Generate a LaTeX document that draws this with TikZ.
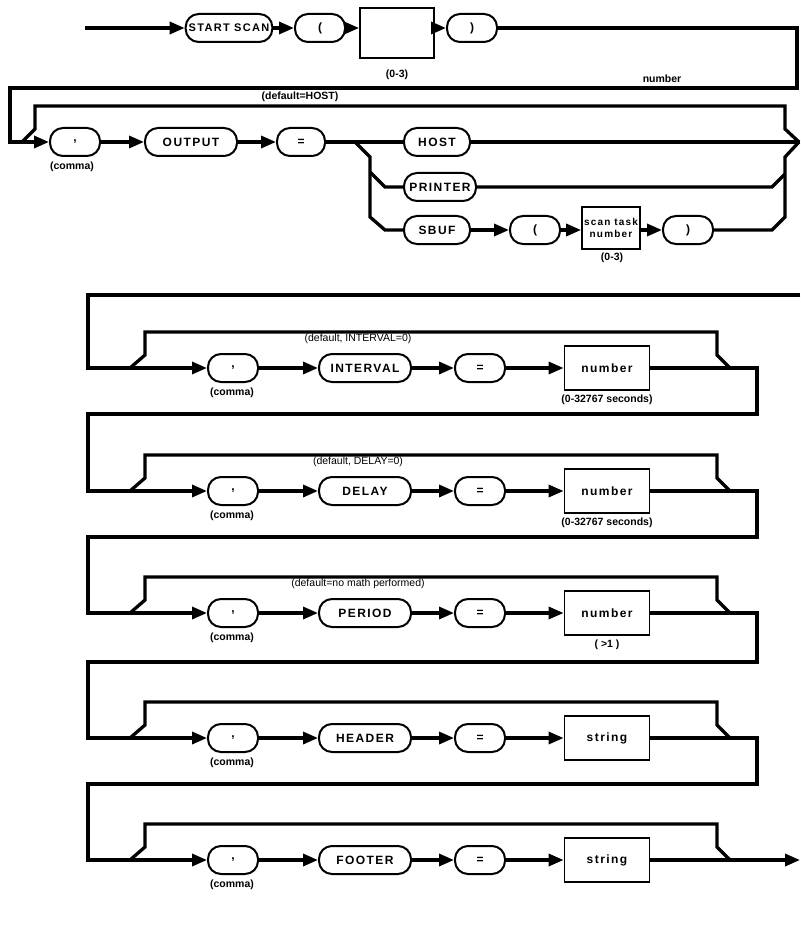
\documentclass[tikz,border=0pt]{standalone}
\usepackage{fontspec}
\setmainfont{Liberation Sans}
\newfontfamily\kwfont{Liberation Sans}[LetterSpace=12]
\usetikzlibrary{arrows.meta,positioning}

\tikzset{
  kw/.style={draw, line width=2pt, rounded corners=13pt, minimum height=28pt,
    minimum width=50pt, inner xsep=3pt, font=\kwfont\bfseries\fontsize{12}{14}\selectfont},
  val/.style={draw, line width=1.8pt, minimum height=44pt, minimum width=85pt,
    align=center, font=\kwfont\bfseries\fontsize{12}{14}\selectfont},
  note/.style={font=\bfseries\fontsize{10.5}{12}\selectfont},
  flow/.style={line width=3.3pt},
  go/.style={flow, -{Triangle[length=15pt,width=12pt]}}
}

\begin{document}
\begin{tikzpicture}[x=1pt,y=-1pt]
\useasboundingbox (0,0) rectangle (800,933);

% START SCAN ( number )
\coordinate (in) at (85,28);
\node[kw, minimum width=86pt, font=\kwfont\bfseries\fontsize{11}{13}\selectfont] (start) at (229,28) {START SCAN};
\node[kw] (lp) at (320,28) {(};
\node[val, minimum width=74pt, minimum height=50pt] (task) at (397,33) {};
\node[kw] (rp) at (472,28) {)};
\node[note] (taskrng) at (397,75) {(0-3)};
\node[note] (tasknum) at (662,79) {number};
\draw[go] (in) -- (start);
\draw[go] (start) -- (lp);
\draw[go] (lp) -- (lp -| task.west);
\draw[go] (task.east |- rp) -- (rp);

% OUTPUT = HOST / PRINTER / SBUF
\node[kw] (c0) at (75,142) {,};
\node[note] (cl0) at (72,167) {(comma)};
\node[kw, minimum width=92pt] (output) at (191,142) {OUTPUT};
\node[kw, minimum width=48pt] (e0) at (301,142) {=};
\node[kw, minimum width=66pt] (host) at (437,142) {HOST};
\node[kw, minimum width=72pt, inner xsep=1pt] (printer) at (440,187) {PRINTER};
\node[kw, minimum width=66pt] (sbuf) at (437,230) {SBUF};
\node[kw] (slp) at (535,230) {(};
\node[val, minimum width=58pt, minimum height=42pt, inner sep=1pt,
  font=\kwfont\bfseries\fontsize{10}{12}\selectfont] (stn) at (611,228) {scan task\\number};
\node[kw] (srp) at (688,230) {)};
\node[note] (stnrng) at (612,258) {(0-3)};
\node[note] (d0) at (300,97) {(default=HOST)};

\draw[go] (rp) -- (797,28) -- (797,88) -- (10,88) -- (10,142) -- (c0);
\draw[go] (c0) -- (output);
\draw[go] (output) -- (e0);
\draw[flow] (e0) -- (host) -- (800,142);
\draw[flow] (e0.east) -- (355,142) -- (370,157) -- (370,217) -- (385,230) -- (sbuf);
\draw[flow] (370,172) -- (385,187) -- (printer);
\draw[go] (sbuf) -- (slp);
\draw[go] (slp) -- (slp -| stn.west);
\draw[go] (stn.east |- srp) -- (srp);
\draw[flow] (printer) -- (772,187) -- (785,174);
\draw[flow] (srp) -- (772,230) -- (785,217) -- (785,157) -- (799,142);
% skip loop
\draw[flow] (22,142) -- (35,129) -- (35,106) -- (785,106) -- (785,129) -- (799,142);

% optional parameters
\foreach \n/\y/\word/\val in {1/368/INTERVAL/number, 2/491/DELAY/number,
  3/613/PERIOD/number, 4/738/HEADER/string, 5/860/FOOTER/string} {
  \node[kw] (c\n) at (233,\y) {,};
  \node[note] (cl\n) at (232,\y+25) {(comma)};
  \node[kw, minimum width=92pt] (k\n) at (365,\y) {\word};
  \node[kw] (e\n) at (480,\y) {=};
  \node[val] (v\n) at (607,\y) {\val};
  \draw[go] (c\n) -- (k\n);
  \draw[go] (k\n) -- (e\n);
  \draw[go] (e\n) -- (v\n);
  \draw[flow] (130,\y) -- (145,\y-13) -- (145,\y-36) -- (717,\y-36) -- (717,\y-13) -- (730,\y);
}
\foreach \n/\y/\dflt/\rng in {1/368/{(default, INTERVAL=0)}/{(0-32767 seconds)},
  2/491/{(default, DELAY=0)}/{(0-32767 seconds)},
  3/613/{(default=no math performed)}/{( >1 )}} {
  \node[note, font=\fontsize{10.5}{12}\selectfont] (d\n) at (358,\y-29) {\dflt};
  \node[note] (r\n) at (607,\y+32) {\rng};
}

% returns between rows
\draw[go] (800,295) -- (88,295) -- (88,368) -- (c1);
\draw[go] (v1) -- (757,368) -- (757,414) -- (88,414) -- (88,491) -- (c2);
\draw[go] (v2) -- (757,491) -- (757,537) -- (88,537) -- (88,613) -- (c3);
\draw[go] (v3) -- (757,613) -- (757,662) -- (88,662) -- (88,738) -- (c4);
\draw[go] (v4) -- (757,738) -- (757,784) -- (88,784) -- (88,860) -- (c5);
\draw[go] (v5) -- (800,860);

\end{tikzpicture}
\end{document}
